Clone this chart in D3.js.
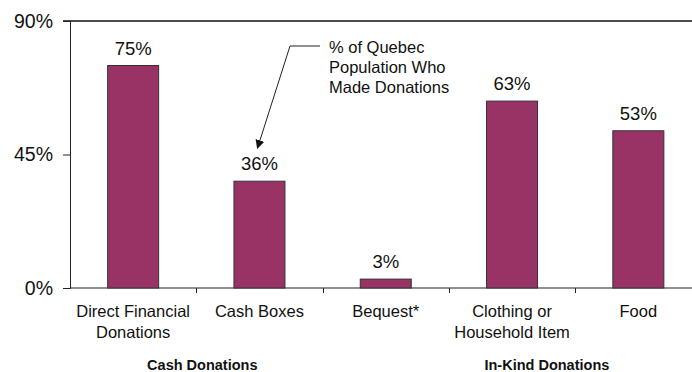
<!DOCTYPE html>
<html>
<head>
<meta charset="utf-8">
<script src="https://cdn.jsdelivr.net/npm/d3@7"></script>
<style>
  html, body { margin: 0; padding: 0; background: #fff; }
  svg { display: block; }
  text { font-family: "Liberation Sans", Arial, Helvetica, sans-serif; fill: #111; }
</style>
</head>
<body>
<svg id="chart" width="692" height="372"></svg>
<script>
// Share of the Quebec population who made each kind of donation
const categories = [
  ["Direct Financial", "Donations"],
  ["Cash Boxes"],
  ["Bequest*"],
  ["Clothing or", "Household Item"],
  ["Food"]
];
const values = [75, 36, 3, 63, 53];
const yTicks = [0, 45, 90];
const groups = ["Cash Donations", "In-Kind Donations"];
const annotation = ["% of Quebec", "Population Who", "Made Donations"];

const svg = d3.select("#chart");
const W = 692, H = 372;

const x = d3.scaleBand()
  .domain(d3.range(categories.length))
  .range([70, 701.5])
  .padding(0);

const y = d3.scaleLinear().domain([0, 90]).range([288, 21]);

const barW = 51;

// top frame line at the 90% level
svg.append("line")
  .attr("x1", 63).attr("x2", W)
  .attr("y1", y(90)).attr("y2", y(90))
  .attr("stroke", "#111").attr("stroke-width", 1.4);

// y axis
const yAxis = svg.append("g")
  .attr("transform", "translate(70,0)")
  .call(d3.axisLeft(y).tickValues(yTicks).tickSize(7).tickPadding(10)
    .tickFormat(d => d + "%"));
yAxis.select(".domain").attr("stroke", "#222");
yAxis.selectAll(".tick line").attr("stroke", "#222");
yAxis.selectAll("text").attr("font-size", "19.5px").attr("fill", "#111")
  .style("font-family", "'Liberation Sans', Arial, sans-serif");

// x axis baseline with ticks at category boundaries
svg.append("line")
  .attr("x1", 70).attr("x2", W)
  .attr("y1", y(0)).attr("y2", y(0))
  .attr("stroke", "#222").attr("stroke-width", 1.2);

svg.selectAll(".xtick")
  .data(d3.range(1, categories.length))
  .join("line")
  .attr("class", "xtick")
  .attr("x1", d => Math.round(x(d)) + 0.5)
  .attr("x2", d => Math.round(x(d)) + 0.5)
  .attr("y1", y(0)).attr("y2", y(0) + 5)
  .attr("stroke", "#222");

// bars
svg.selectAll(".bar")
  .data(values)
  .join("rect")
  .attr("class", "bar")
  .attr("x", (d, i) => x(i) + x.bandwidth() / 2 - barW / 2)
  .attr("y", d => y(d))
  .attr("width", barW)
  .attr("height", d => y(0) - y(d))
  .attr("fill", "#993366")
  .attr("stroke", "#333")
  .attr("stroke-width", 1);

// value labels
svg.selectAll(".val")
  .data(values)
  .join("text")
  .attr("class", "val")
  .attr("x", (d, i) => x(i) + x.bandwidth() / 2)
  .attr("y", d => y(d) - 11)
  .attr("text-anchor", "middle")
  .attr("font-size", "18.5px")
  .text(d => d + "%");

// category labels
categories.forEach((lines, i) => {
  const t = svg.append("text")
    .attr("text-anchor", "middle")
    .attr("font-size", "16.5px");
  lines.forEach((ln, j) => {
    t.append("tspan")
      .attr("x", x(i) + x.bandwidth() / 2)
      .attr("y", 317 + j * 21)
      .text(ln);
  });
});

// group labels
const groupX = [x(1) + 6, x(3) + 98];
groups.forEach((g, i) => {
  svg.append("text")
    .attr("x", groupX[i])
    .attr("y", 370)
    .attr("text-anchor", "middle")
    .attr("font-size", "14.5px")
    .attr("font-weight", "bold")
    .text(g);
});

// annotation pointing at the Cash Boxes value
const tipX = x(1) + x.bandwidth() / 2 - 2;
const tipY = y(values[1]) - 33;
svg.append("defs").append("marker")
  .attr("id", "arrow")
  .attr("viewBox", "0 0 10 10")
  .attr("refX", 9).attr("refY", 5)
  .attr("markerWidth", 9).attr("markerHeight", 9)
  .attr("markerUnits", "userSpaceOnUse")
  .attr("orient", "auto")
  .append("path")
  .attr("d", "M0,0 L10,5 L0,10 z")
  .attr("fill", "#111");

svg.append("path")
  .attr("d", `M320,46 L290,46 L${tipX},${tipY}`)
  .attr("fill", "none")
  .attr("stroke", "#222")
  .attr("stroke-width", 1)
  .attr("marker-end", "url(#arrow)");

const ann = svg.append("text").attr("font-size", "16.5px");
annotation.forEach((ln, j) => {
  ann.append("tspan").attr("x", 329).attr("y", 53 + j * 20).text(ln);
});
</script>
</body>
</html>
